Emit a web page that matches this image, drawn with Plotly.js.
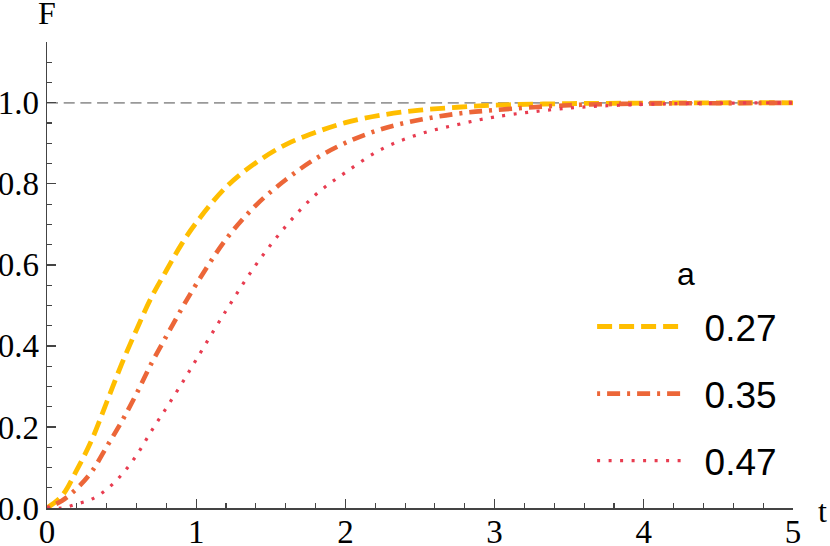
<!DOCTYPE html>
<html>
<head>
<meta charset="utf-8">
<script src="https://cdn.plot.ly/plotly-3.0.1.min.js"></script>
<style>
  html, body { margin: 0; padding: 0; background: #fff; }
  #plot { width: 830px; height: 546px; }
</style>
</head>
<body>
<div id="plot"></div>
<script>
// shared time grid
let t = [0, 0.1, 0.2, 0.3, 0.4, 0.5, 0.6, 0.7, 0.8, 0.9, 1.0, 1.2, 1.4, 1.6, 1.8,
         2.0, 2.25, 2.5, 2.75, 3.0, 3.5, 4.0, 4.5, 5.0];

// F(t)
let f027 = [0, 0.03, 0.094, 0.168, 0.261, 0.355, 0.44, 0.52, 0.586, 0.65, 0.704, 0.792, 0.852, 0.897, 0.927,
            0.951, 0.97, 0.982, 0.989, 0.994, 0.998, 0.999, 1.0, 1.0];
let f035 = [0, 0.018, 0.048, 0.09, 0.151, 0.213, 0.282, 0.357, 0.424, 0.49, 0.552, 0.663, 0.747, 0.81, 0.862,
            0.901, 0.936, 0.958, 0.973, 0.982, 0.994, 0.998, 0.999, 1.0];
let f047 = [0, 0, 0.01, 0.022, 0.046, 0.082, 0.13, 0.19, 0.247, 0.305, 0.366, 0.487, 0.6, 0.695, 0.773,
            0.828, 0.887, 0.923, 0.946, 0.965, 0.987, 0.996, 0.999, 1.0];

let asymT = [0, 5];
let asymF = [1, 1];

let names = ['0.27', '0.35', '0.47'];
let pad = '\u2002';  // gap between legend line and label

let ref = {
  x: asymT, y: asymF, type: 'scatter', mode: 'lines', showlegend: false, hoverinfo: 'skip',
  line: {color: '#999999', width: 1.8, dash: '11px,5.7px'}
};
let trace1 = {
  x: t, y: f027, name: pad + names[0], type: 'scatter', mode: 'lines', legendgroup: 'a',
  line: {color: 'rgb(255,190,0)', width: 4.8, dash: '15px,7px', shape: 'spline'}
};
let trace2 = {
  x: t, y: f035, name: pad + names[1], type: 'scatter', mode: 'lines', legendgroup: 'b',
  line: {color: 'rgb(236,102,56)', width: 4.6, dash: '3px,7px,13px,7px', shape: 'spline'}
};
let trace3 = {
  x: t, y: f047, name: pad + names[2], type: 'scatter', mode: 'lines', legendgroup: 'c',
  line: {color: 'rgb(232,60,80)', width: 3.2, dash: '3px,8.5px', shape: 'spline'}
};

let data = [ref, trace1, trace2, trace3];

let axisCol = '#444444';
let serif = 'Liberation Serif, Times New Roman, serif';
let sans = 'Liberation Sans, Arial, sans-serif';
let tickFont = {family: serif, size: 33, color: '#000'};

let layout = {
  width: 830,
  height: 546,
  margin: {l: 47, r: 37, t: 42, b: 38},
  paper_bgcolor: '#fff',
  plot_bgcolor: '#fff',
  showlegend: true,
  legend: {
    x: 0.7307, xanchor: 'left',
    y: 0.455, yanchor: 'top',
    bgcolor: 'rgba(0,0,0,0)',
    font: {family: sans, size: 37, color: '#000'},
    itemwidth: 84,
    tracegroupgap: 16
  },
  xaxis: {
    range: [0, 5],
    showgrid: false, zeroline: false,
    showline: true, linecolor: axisCol, linewidth: 1.5,
    ticks: 'inside', ticklen: 9, tickwidth: 1.3, tickcolor: axisCol,
    dtick: 1, tick0: 0,
    tickfont: tickFont,
    ticklabelstandoff: -6,
    minor: {ticks: 'inside', ticklen: 5, tickwidth: 1.1, tickcolor: axisCol, dtick: 0.2, showgrid: false}
  },
  yaxis: {
    range: [0, 1.15],
    showgrid: false, zeroline: false,
    showline: true, linecolor: axisCol, linewidth: 1.5,
    ticks: 'inside', ticklen: 9, tickwidth: 1.3, tickcolor: axisCol,
    dtick: 0.2, tick0: 0, tickformat: '.1f',
    tickfont: tickFont,
    minor: {ticks: 'inside', ticklen: 5, tickwidth: 1.1, tickcolor: axisCol, dtick: 0.05, showgrid: false}
  },
  annotations: [
    {text: 'F', xref: 'paper', yref: 'paper', x: 0.0, y: 1.063, xanchor: 'center', yanchor: 'middle',
     showarrow: false, font: {family: serif, size: 32, color: '#000'}},
    {text: 't', xref: 'paper', yref: 'paper', x: 1.039, y: -0.006, xanchor: 'center', yanchor: 'middle',
     showarrow: false, font: {family: serif, size: 32, color: '#000'}},
    {text: 'a', xref: 'paper', yref: 'paper', x: 0.8566, y: 0.503, xanchor: 'center', yanchor: 'middle',
     showarrow: false, font: {family: sans, size: 32, color: '#000'}}
  ]
};

Plotly.newPlot('plot', data, layout, {displayModeBar: false, staticPlot: true});
</script>
</body>
</html>
